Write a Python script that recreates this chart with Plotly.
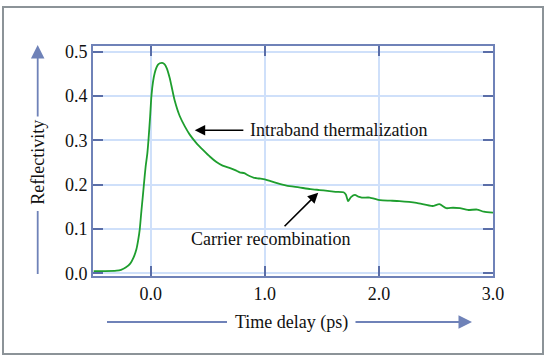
import plotly.graph_objects as go

# Time delay (ps) and reflectivity
time_ps = [-0.5, -0.4, -0.3, -0.26, -0.22, -0.18, -0.15, -0.125, -0.11, -0.096, -0.082, -0.07,
           -0.059, -0.045, -0.03, -0.02, -0.005, 0.006, 0.02, 0.035, 0.05, 0.064, 0.08, 0.10,
           0.12, 0.14, 0.167, 0.18, 0.21, 0.254, 0.3, 0.342, 0.4, 0.46, 0.52, 0.576, 0.63,
           0.69, 0.74, 0.78, 0.82, 0.84, 0.87, 0.9, 0.95, 1.0, 1.05, 1.1, 1.19, 1.3, 1.4,
           1.48, 1.55, 1.62, 1.69, 1.71, 1.73, 1.755, 1.79, 1.82, 1.85, 1.92, 2.01, 2.1,
           2.18, 2.33, 2.47, 2.53, 2.59, 2.65, 2.71, 2.78, 2.86, 2.92, 3.0]
reflectivity = [0.005, 0.005, 0.006, 0.008, 0.013, 0.022, 0.036, 0.055, 0.075, 0.1, 0.14, 0.172,
                0.203, 0.24, 0.27, 0.30, 0.355, 0.40, 0.432, 0.452, 0.464, 0.471, 0.474, 0.475,
                0.472, 0.463, 0.44, 0.425, 0.39, 0.355, 0.331, 0.313, 0.294, 0.278, 0.263, 0.251, 0.243,
                0.238, 0.233, 0.228, 0.226, 0.223, 0.219, 0.216, 0.214, 0.212, 0.208, 0.204, 0.198,
                0.194, 0.19, 0.188, 0.186, 0.184, 0.183, 0.178, 0.163, 0.172, 0.177, 0.173, 0.171,
                0.171, 0.165, 0.164, 0.163, 0.159, 0.152, 0.156, 0.147, 0.148, 0.147, 0.143,
                0.144, 0.139, 0.137]

x_ticks = [0, 1, 2, 3]
x_tick_labels = ["0.0", "1.0", "2.0", "3.0"]
y_ticks = [0.0, 0.1, 0.2, 0.3, 0.4, 0.5]
y_tick_labels = ["0.0", "0.1", "0.2", "0.3", "0.4", "0.5"]

FONT = "Liberation Serif, Times New Roman, serif"
AXIS_C = "#6f82b8"
TICK_C = "#5a6ea8"
GRID_C = "#cfe0fa"
ARROW_C = "#6f82b8"
TEXT_C = "#111111"

fig = go.Figure()
fig.add_trace(go.Scatter(x=time_ps, y=reflectivity, mode="lines",
                         line=dict(color="#1e9e2e", width=1.8, shape="spline", smoothing=0.6),
                         hoverinfo="skip", showlegend=False))

L, R, T, B = 93, 57, 46, 86
W, H = 550, 362
pw, ph = W - L - R, H - T - B

def px(x):
    return (x - L) / pw

def py(y):
    return (H - B - y) / ph

axis_common = dict(showline=True, linecolor=AXIS_C, linewidth=2, mirror="ticks",
                   ticks="inside", ticklen=10, tickwidth=2, tickcolor=TICK_C,
                   showgrid=True, gridcolor=GRID_C, gridwidth=2, zeroline=False,
                   tickfont=dict(family=FONT, size=18, color=TEXT_C))

fig.update_xaxes(range=[-0.506, 3.0], tickvals=x_ticks, ticktext=x_tick_labels, **axis_common)
fig.update_yaxes(range=[-0.006, 0.513], tickvals=y_ticks, ticktext=y_tick_labels, **axis_common)

center = dict(xanchor="center", yanchor="middle")
annotations = [
    # Axis titles
    dict(xref="paper", yref="paper", x=px(37.7), y=py(162), text="Reflectivity", textangle=-90,
         showarrow=False, font=dict(family=FONT, size=18, color=TEXT_C), **center),
    dict(xref="paper", yref="paper", x=px(291), y=py(322), text="Time delay (ps)",
         showarrow=False, font=dict(family=FONT, size=18, color=TEXT_C), **center),
    # Y title arrow (up)
    dict(xref="paper", yref="paper", x=px(37.7), y=py(45), ax=0, ay=73, text="",
         showarrow=True, arrowhead=2, arrowsize=1.5, arrowwidth=1.8, arrowcolor=ARROW_C),
    # X title arrow (right)
    dict(xref="paper", yref="paper", x=px(472), y=py(322), ax=-118, ay=0, text="",
         showarrow=True, arrowhead=2, arrowsize=1.5, arrowwidth=1.8, arrowcolor=ARROW_C),
    # Data annotations
    dict(x=1.649, y=0.323, text="Intraband thermalization", showarrow=False,
         font=dict(family=FONT, size=18, color=TEXT_C), **center),
    dict(x=0.386, y=0.323, ax=0.825, ay=0.323, axref="x", ayref="y", text="",
         showarrow=True, arrowhead=2, arrowsize=1.3, arrowwidth=1.6, arrowcolor="#000000"),
    dict(x=1.047, y=0.077, text="Carrier recombination", showarrow=False,
         font=dict(family=FONT, size=18, color=TEXT_C), **center),
    dict(x=1.468, y=0.182, ax=1.16, ay=0.103, axref="x", ayref="y", text="",
         showarrow=True, arrowhead=2, arrowsize=1.3, arrowwidth=1.6, arrowcolor="#000000"),
]

shapes = [
    dict(type="rect", xref="paper", yref="paper", x0=px(3), x1=px(543), y0=py(354), y1=py(7),
         line=dict(color="#8c9398", width=2), fillcolor="rgba(0,0,0,0)", layer="below"),
    # Y title lower line
    dict(type="line", xref="paper", yref="paper", x0=px(37.7), x1=px(37.7), y0=py(211), y1=py(274),
         line=dict(color=ARROW_C, width=1.8)),
    # X title left line
    dict(type="line", xref="paper", yref="paper", x0=px(107), x1=px(227), y0=py(322), y1=py(322),
         line=dict(color=ARROW_C, width=1.8)),
]

fig.update_layout(width=W, height=H, margin=dict(l=L, r=R, t=T, b=B),
                  paper_bgcolor="white", plot_bgcolor="white",
                  annotations=annotations, shapes=shapes, showlegend=False)

fig.write_html("out.html", config={"displayModeBar": False},
               post_script="document.body.style.margin='0';")
